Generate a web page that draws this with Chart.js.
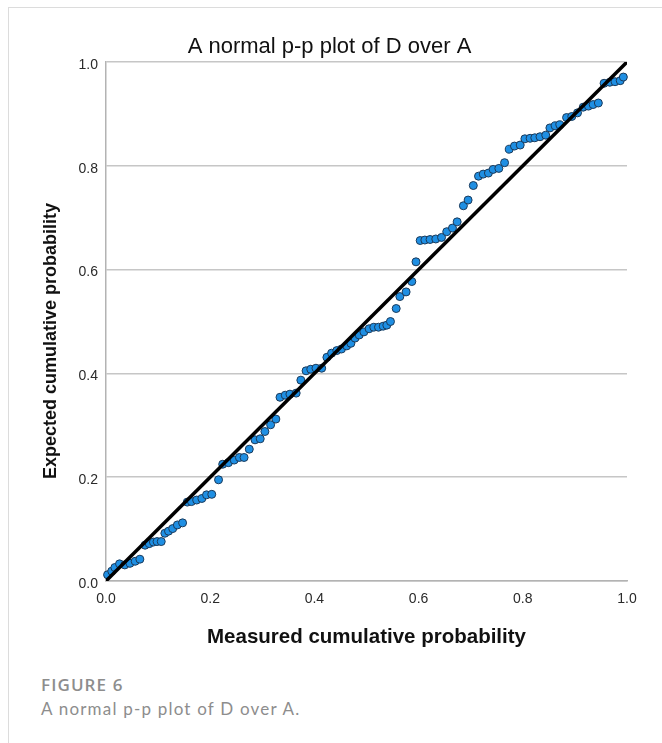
<!DOCTYPE html>
<html>
<head>
<meta charset="utf-8">
<script src="https://cdn.jsdelivr.net/npm/chart.js@4.4.1/dist/chart.umd.min.js"></script>
<style>
  html, body { margin: 0; padding: 0; background: #fff; }
  body { width: 662px; height: 743px; position: relative; overflow: hidden; }
  .card { position: absolute; left: 8px; top: 7px; width: 720px; height: 800px; border: 1px solid #dcdcdc; }
  .chart-box { position: absolute; left: 0; top: 0; width: 662px; height: 660px; }
  .fig-label { position: absolute; left: 41px; top: 675px; font: 600 17px "Open Sans", sans-serif; line-height: 20px; letter-spacing: 1.1px; color: #8d8d8d; }
  .fig-caption { position: absolute; left: 41px; top: 699px; font: 400 17px Lato, sans-serif; line-height: 20px; letter-spacing: 1.2px; color: #8d8d8d; }
</style>
</head>
<body>
<div class="card"></div>
<div class="chart-box"><canvas id="ppChart"></canvas></div>
<div class="fig-label">FIGURE 6</div>
<div class="fig-caption">A normal p-p plot of D over A.</div>

<script>
/* ===== datos ===== */
const titulo = 'A normal p-p plot of D over A';
const tituloX = 'Measured cumulative probability';
const tituloY = 'Expected cumulative probability';
const ticks = [0, 0.2, 0.4, 0.6, 0.8, 1.0];

// probabilidad acumulada observada (eje x)
const medida = [
  0.003, 0.011, 0.017, 0.026, 0.036, 0.046, 0.056, 0.065, 0.075, 0.083,
  0.091, 0.098, 0.106, 0.113, 0.120, 0.128, 0.137, 0.147, 0.156, 0.164,
  0.174, 0.184, 0.193, 0.203, 0.216, 0.224, 0.235, 0.246, 0.256, 0.265,
  0.275, 0.286, 0.296, 0.305, 0.316, 0.326, 0.334, 0.344, 0.353, 0.365,
  0.374, 0.384, 0.393, 0.403, 0.414, 0.424, 0.433, 0.443, 0.452, 0.462,
  0.470, 0.478, 0.486, 0.495, 0.505, 0.514, 0.523, 0.532, 0.539, 0.546,
  0.557, 0.564, 0.576, 0.587, 0.595, 0.603, 0.612, 0.622, 0.633, 0.644,
  0.654, 0.665, 0.674, 0.686, 0.695, 0.705, 0.715, 0.724, 0.734, 0.743,
  0.754, 0.765, 0.774, 0.784, 0.795, 0.804, 0.814, 0.823, 0.833, 0.844,
  0.852, 0.862, 0.871, 0.884, 0.894, 0.905, 0.916, 0.926, 0.935, 0.945,
  0.956, 0.967, 0.977, 0.987, 0.993
];

// probabilidad acumulada esperada (eje y)
const esperada = [
  0.012, 0.019, 0.026, 0.033, 0.031, 0.034, 0.038, 0.042, 0.069, 0.072,
  0.075, 0.076, 0.076, 0.092, 0.096, 0.101, 0.108, 0.112, 0.152, 0.153,
  0.156, 0.159, 0.166, 0.167, 0.195, 0.225, 0.228, 0.233, 0.238, 0.238,
  0.254, 0.272, 0.274, 0.288, 0.301, 0.312, 0.354, 0.358, 0.360, 0.362,
  0.387, 0.405, 0.408, 0.410, 0.410, 0.431, 0.439, 0.444, 0.447, 0.453,
  0.458, 0.468, 0.474, 0.480, 0.486, 0.489, 0.489, 0.491, 0.493, 0.500,
  0.525, 0.548, 0.557, 0.577, 0.615, 0.656, 0.657, 0.658, 0.659, 0.662,
  0.673, 0.680, 0.692, 0.723, 0.734, 0.762, 0.780, 0.784, 0.786, 0.793,
  0.795, 0.806, 0.832, 0.838, 0.840, 0.852, 0.853, 0.854, 0.856, 0.859,
  0.873, 0.877, 0.879, 0.893, 0.895, 0.902, 0.913, 0.915, 0.918, 0.921,
  0.959, 0.961, 0.962, 0.964, 0.971
];

// recta de referencia y = x
const referencia = [0, 1];

/* ===== gráfico ===== */
// título del eje Y dibujado a mano (va algo por debajo del centro)
const tituloEjeY = {
  id: 'tituloEjeY',
  afterDraw(chart) {
    const ctx = chart.ctx;
    ctx.save();
    ctx.translate(51, 341);
    ctx.rotate(-Math.PI / 2);
    ctx.font = 'bold 18px "Liberation Sans", Arial, sans-serif';
    ctx.fillStyle = '#111';
    ctx.textAlign = 'center';
    ctx.textBaseline = 'middle';
    ctx.fillText(tituloY, 0, 0);
    ctx.restore();
  }
};

new Chart(document.getElementById('ppChart'), {
  type: 'scatter',
  data: {
    datasets: [
      {
        type: 'line',
        data: referencia.map(v => ({ x: v, y: v })),
        borderColor: '#000',
        borderWidth: 3.5,
        pointRadius: 0,
        fill: false
      },
      {
        data: medida.map((m, i) => ({ x: m, y: esperada[i] })),
        backgroundColor: '#1f8fe3',
        borderColor: '#1b3a5a',
        borderWidth: 1,
        pointRadius: 4,
        clip: false
      }
    ]
  },
  options: {
    responsive: true,
    maintainAspectRatio: false,
    animation: false,
    // padding izquierdo para que el título quede centrado como en el original
    layout: { padding: { left: 32, right: 35, top: 0, bottom: 0 } },
    plugins: {
      legend: { display: false },
      tooltip: { enabled: false },
      title: {
        display: true,
        text: titulo,
        color: '#111',
        font: { family: '"Liberation Sans", Arial, sans-serif', size: 22, weight: 'normal', lineHeight: 1.2 },
        padding: { top: 34, bottom: 1.6 }
      }
    },
    scales: {
      x: {
        type: 'linear',
        min: 0,
        max: 1,
        afterBuildTicks: s => { s.ticks = ticks.map(v => ({ value: v })); },
        afterFit: s => { s.height = 79; },
        grid: { display: false, drawTicks: false },
        border: { display: true, color: '#b3b3b3', width: 1.5 },
        ticks: {
          padding: 10,
          color: '#2a2a2a',
          font: { family: '"Liberation Sans", Arial, sans-serif', size: 14 },
          callback: v => v.toFixed(1)
        },
        title: {
          display: true,
          text: tituloX,
          color: '#111',
          font: { family: '"Liberation Sans", Arial, sans-serif', size: 20.5, weight: 'bold', lineHeight: 1.2 },
          padding: { top: 0, bottom: 10.7 }
        }
      },
      y: {
        type: 'linear',
        min: 0,
        max: 1,
        afterBuildTicks: s => { s.ticks = ticks.map(v => ({ value: v })); },
        afterFit: s => { s.width = 74; },
        grid: { color: '#c6c6c6', lineWidth: 1.5, drawTicks: false },
        border: { display: true, color: '#b3b3b3', width: 1.5 },
        ticks: {
          padding: 8,
          labelOffset: 3,
          color: '#2a2a2a',
          font: { family: '"Liberation Sans", Arial, sans-serif', size: 14 },
          callback: v => v.toFixed(1)
        }
      }
    }
  },
  plugins: [tituloEjeY]
});
</script>
</body>
</html>
